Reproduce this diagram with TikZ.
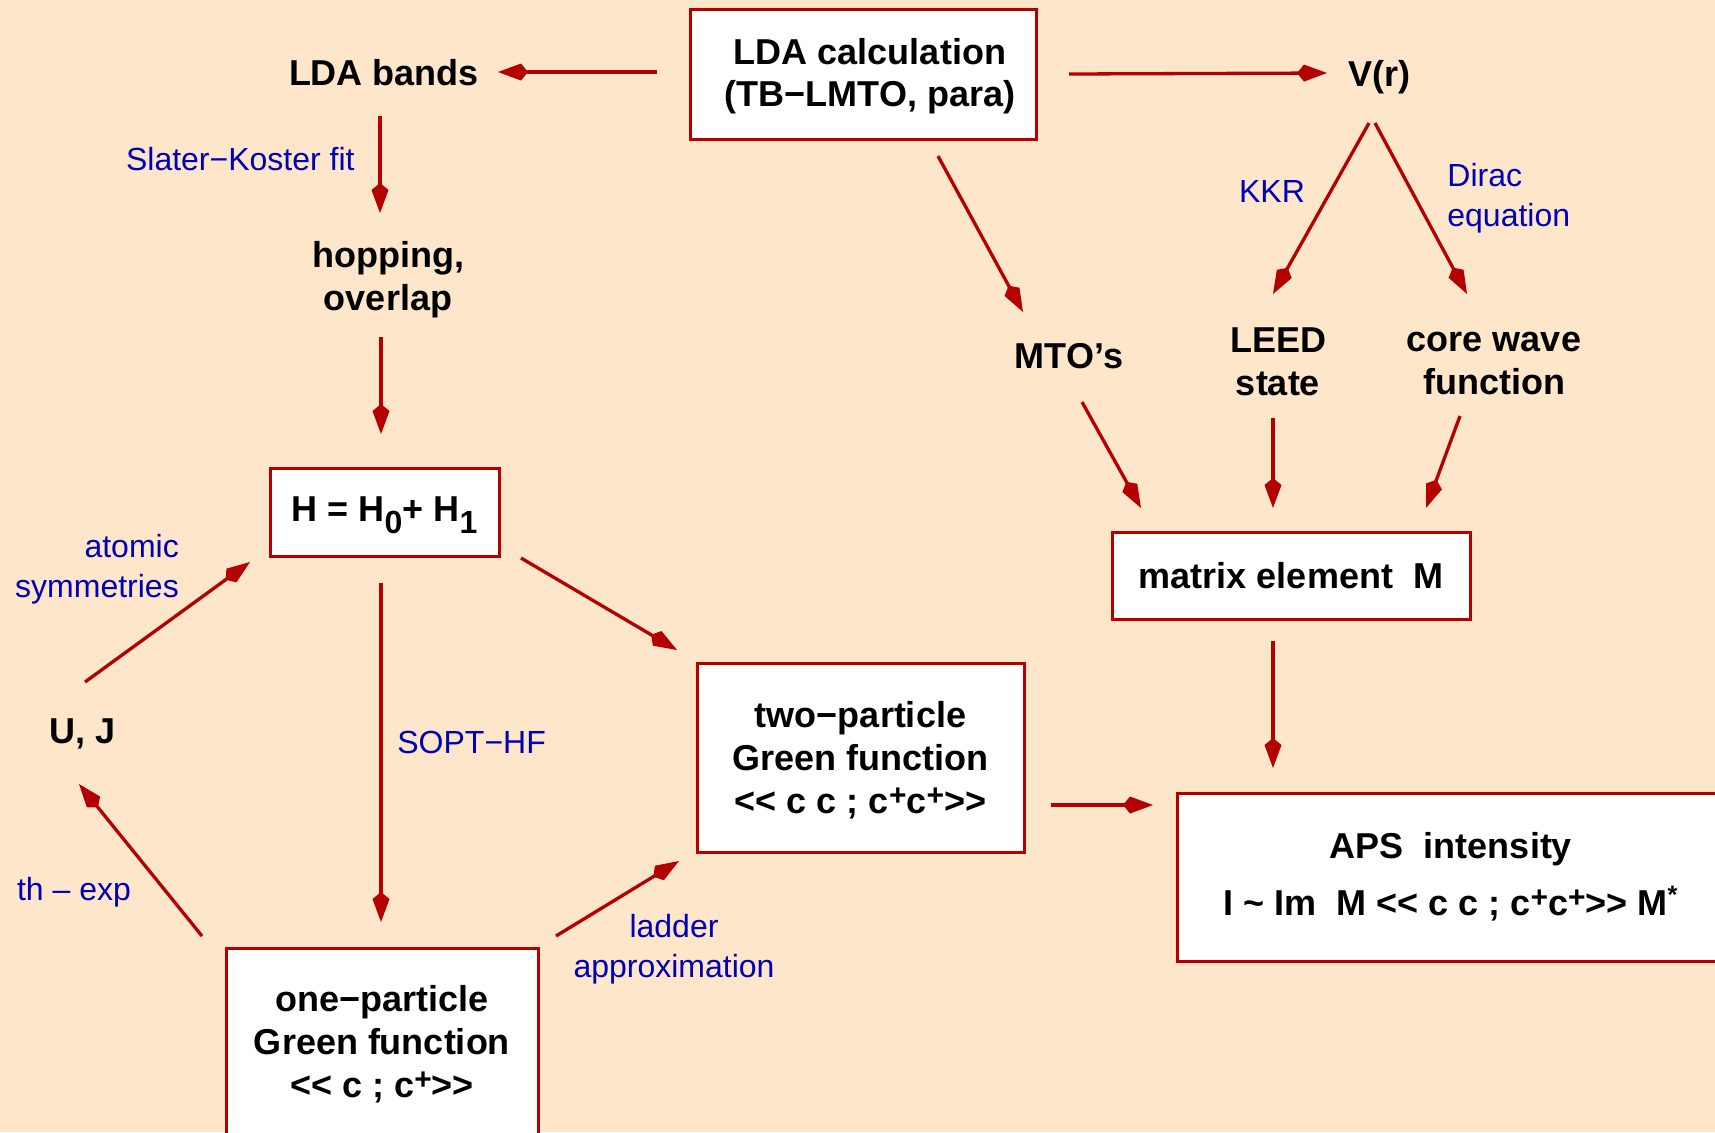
\documentclass[tikz,border=0pt]{standalone}
\usepackage{fontspec}
\setmainfont{Liberation Sans}
\usepackage{tikz}
\usetikzlibrary{arrows.meta}
\definecolor{peach}{RGB}{253,230,201}
\definecolor{darkred}{RGB}{180,0,0}
\definecolor{labelblue}{RGB}{0,0,180}
\newcommand{\lowidx}[1]{\raisebox{-6pt}{\fontsize{16}{16}\selectfont #1}}
\newcommand{\cplus}{\raisebox{4pt}{\fontsize{15}{15}\selectfont +}}

\begin{document}
\begin{tikzpicture}[x=0.5pt,y=-0.5pt]
                \tikzstyle{box}=[draw=darkred, line width=1.5pt, fill=white, align=center, font=\fontsize{18}{21.5}\selectfont\bfseries]
                \tikzstyle{txt}=[align=center, font=\fontsize{18}{21.5}\selectfont\bfseries]
                \tikzstyle{lbl}=[text=labelblue, inner sep=0pt, font=\fontsize{16}{20}\selectfont]
                \tikzstyle{conn}=[draw=darkred, line width=1.65pt, -{Kite[length=15pt,width=8.5pt,inset=3.5pt]}]

                \useasboundingbox (0,0) rectangle (1715,1132);
                \fill[peach] (0,0) rectangle (1715,1132);

                % nodes
                \node[box, minimum width=173pt, minimum height=65pt, font=\fontsize{18}{20.8}\selectfont\bfseries] (ldacalc) at (863,74) {\hspace*{7pt}\rule{0pt}{15.5pt}LDA calculation\\\hspace*{7pt}(TB−LMTO, para)};
                \node[txt] (ldabands) at (384,73) {LDA bands};
                \node[txt] (vr) at (1379,77.5) {V(r)};
                \node[txt] (hopping) at (388,279.5) {hopping,\\overlap};
                \node[box, minimum width=114.5pt, minimum height=44pt] (ham) at (384.5,512) {\rule{0pt}{15.2pt}H = H\lowidx{0}+ H\lowidx{1}};
                \node[txt] (uj) at (83,734) {U, J};
                \node[box, minimum width=163.5pt, minimum height=94.5pt] (twopart) at (860.5,757.5) {\rule{0pt}{15.3pt}two−particle\\Green function\\<{}< c c ; c\cplus c\cplus>{}>};
                \node[box, minimum width=156pt, minimum height=93pt] (onepart) at (382,1041) {\rule{0pt}{16.4pt}one−particle\\Green function\\<{}< c ; c\cplus>{}>};
                \node[box, minimum width=274pt, minimum height=84pt] (aps) at (1451,877) {APS~ intensity\\[7pt]I \textasciitilde{} Im~ M <{}< c c ; c\cplus c\cplus>{}> M\textsuperscript{*}};
                \node[box, minimum width=179pt, minimum height=43.5pt] (matrix) at (1291,575.5) {matrix element~ M};
                \node[txt] (mto) at (1069,356) {MTO’s};
                \node[txt] (leed) at (1278,362) {LEED\\state};
                \node[txt] (core) at (1494,363) {core wave\\function};

                % labels
                \node[lbl, anchor=east] (slater) at (355,159) {Slater−Koster fit};
                \node[lbl, align=right] (atomic) at (97,569) {atomic\\symmetries};
                \node[lbl] (thexp) at (74,892) {th – exp};
                \node[lbl, anchor=west] (sopt) at (397,742) {SOPT−HF};
                \node[lbl, align=center] (ladder) at (674,949) {ladder\\approximation};
                \node[lbl] (kkr) at (1272,191) {KKR};
                \node[lbl, align=left, anchor=west] (dirac) at (1447,198) {Dirac\\equation};

                % connectors
                \draw[conn] ([shift={(-206,-2)}]ldacalc.center) -- ([shift={(114,-1)}]ldabands.center);
                \draw[conn] ([shift={(206,0)}]ldacalc.center) -- ([shift={(-52,-4.5)}]vr.center);
                \draw[conn] ([shift={(-4,43)}]ldabands.center) -- ([shift={(-8,-66.5)}]hopping.center);
                \draw[conn] ([shift={(-7,57.5)}]hopping.center) -- ([shift={(-3.5,-78)}]ham.center);
                \draw[conn] ([shift={(2,-52)}]uj.center) -- ([shift={(-134.5,50)}]ham.center);
                \draw[conn] ([shift={(-180,-105)}]onepart.center) -- ([shift={(-4,50)}]uj.center);
                \draw[conn] ([shift={(-3.5,71)}]ham.center) -- ([shift={(-1,-119)}]onepart.center);
                \draw[conn] ([shift={(136.5,46)}]ham.center) -- ([shift={(-183.5,-107.5)}]twopart.center);
                \draw[conn] ([shift={(174,-105)}]onepart.center) -- ([shift={(-181.5,103.5)}]twopart.center);
                \draw[conn] ([shift={(190.5,47.5)}]twopart.center) -- ([shift={(-298,-72)}]aps.center);
                \draw[conn] ([shift={(-18,65.5)}]matrix.center) -- ([shift={(-178,-109)}]aps.center);
                \draw[conn] ([shift={(75,82)}]ldacalc.center) -- ([shift={(-46,-44)}]mto.center);
                \draw[conn] ([shift={(-10,45.5)}]vr.center) -- ([shift={(-5,-68)}]leed.center);
                \draw[conn] ([shift={(-4,45.5)}]vr.center) -- ([shift={(-27,-69)}]core.center);
                \draw[conn] ([shift={(13,46)}]mto.center) -- ([shift={(-150,-67.5)}]matrix.center);
                \draw[conn] ([shift={(-5,56)}]leed.center) -- ([shift={(-18,-67.5)}]matrix.center);
                \draw[conn] ([shift={(-34,53)}]core.center) -- ([shift={(135,-67.5)}]matrix.center);
\end{tikzpicture}
\end{document}
